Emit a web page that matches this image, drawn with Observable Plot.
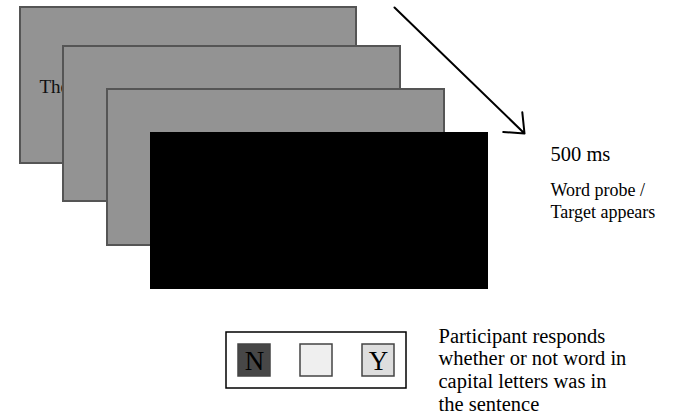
<!DOCTYPE html>
<html>
<head>
<meta charset="utf-8">
<script src="https://cdn.jsdelivr.net/npm/d3@7"></script>
<script src="https://cdn.jsdelivr.net/npm/@observablehq/plot@0.6"></script>
<style>
  html, body { margin: 0; padding: 0; background: #fff; }
  #chart svg { display: block; }
</style>
</head>
<body>
<div id="chart"></div>
<script>
// Diagram data (in page units of the 673 x 414 canvas)
const screens = [
  {id: "fixation", x1: 20, x2: 356, y1: 7, y2: 163, fill: "#939393"},
  {id: "sentence2", x1: 63, x2: 400, y1: 46, y2: 201, fill: "#939393"},
  {id: "sentence3", x1: 107, x2: 444, y1: 89, y2: 245, fill: "#939393"},
  {id: "probe", x1: 150, x2: 488, y1: 132, y2: 289, fill: "#000000"}
];
const sentenceText = [{x: 39, y: 92, text: "The"}];
const timeArrow = [{x1: 394, y1: 7, x2: 524, y2: 133}];
const responsePanel = [{x1: 226, x2: 406, y1: 332, y2: 388}];
const keys = ["N", "", "Y"];
const keyX1 = [238, 300, 362];
const keyX2 = [270, 332, 394];
const keyFill = ["#474747", "#efefef", "#dedede"];
const durationLabel = [{x: 550, y: 160, text: "500 ms"}];
const eventLabel = [{x: 550, y: 217, text: "Word probe /\nTarget appears"}];
const responseLabel = [{x: 438, y: 410, text: "Participant responds\nwhether or not word in\ncapital letters was in\nthe sentence"}];

const keyData = keys.map((k, i) => ({key: k, x1: keyX1[i], x2: keyX2[i], y1: 344, y2: 376, fill: keyFill[i]}));
const font = "'Liberation Serif', 'Times New Roman', serif";
const txt = {x: "x", y: "y", text: "text", textAnchor: "start", lineAnchor: "bottom", fill: "#000"};

const plot = Plot.plot({
  width: 673,
  height: 414,
  margin: 0,
  style: {fontFamily: font, background: "#fff"},
  x: {domain: [0, 673], range: [0, 673], axis: null},
  y: {domain: [0, 414], range: [0, 414], axis: null},
  marks: [
    Plot.rect(screens.slice(0, 1), {x1: "x1", x2: "x2", y1: "y1", y2: "y2", fill: "fill", stroke: "#555", strokeWidth: 2}),
    Plot.text(sentenceText, {...txt, fontSize: 19, fill: "#111"}),
    Plot.rect(screens.slice(1, 3), {x1: "x1", x2: "x2", y1: "y1", y2: "y2", fill: "fill", stroke: "#555", strokeWidth: 2}),
    Plot.rect(screens.slice(3), {x1: "x1", x2: "x2", y1: "y1", y2: "y2", fill: "fill"}),
    Plot.arrow(timeArrow, {x1: "x1", y1: "y1", x2: "x2", y2: "y2", stroke: "#000", strokeWidth: 2, headLength: 16, headAngle: 80}),
    Plot.rect(responsePanel, {x1: "x1", x2: "x2", y1: "y1", y2: "y2", fill: "#fff", stroke: "#000", strokeWidth: 1.5}),
    Plot.rect(keyData, {x1: "x1", x2: "x2", y1: "y1", y2: "y2", fill: "fill", stroke: "#444", strokeWidth: 1.5}),
    Plot.text(keyData, {x: d => (d.x1 + d.x2) / 2, y: 369, text: "key", lineAnchor: "bottom", fontSize: 27, fill: "#000"}),
    Plot.text(durationLabel, {...txt, fontSize: 20.5}),
    Plot.text(eventLabel, {...txt, fontSize: 18, lineHeight: 1.22}),
    Plot.text(responseLabel, {...txt, fontSize: 20.5, lineHeight: 1.1})
  ]
});
document.getElementById("chart").appendChild(plot);
</script>
</body>
</html>
